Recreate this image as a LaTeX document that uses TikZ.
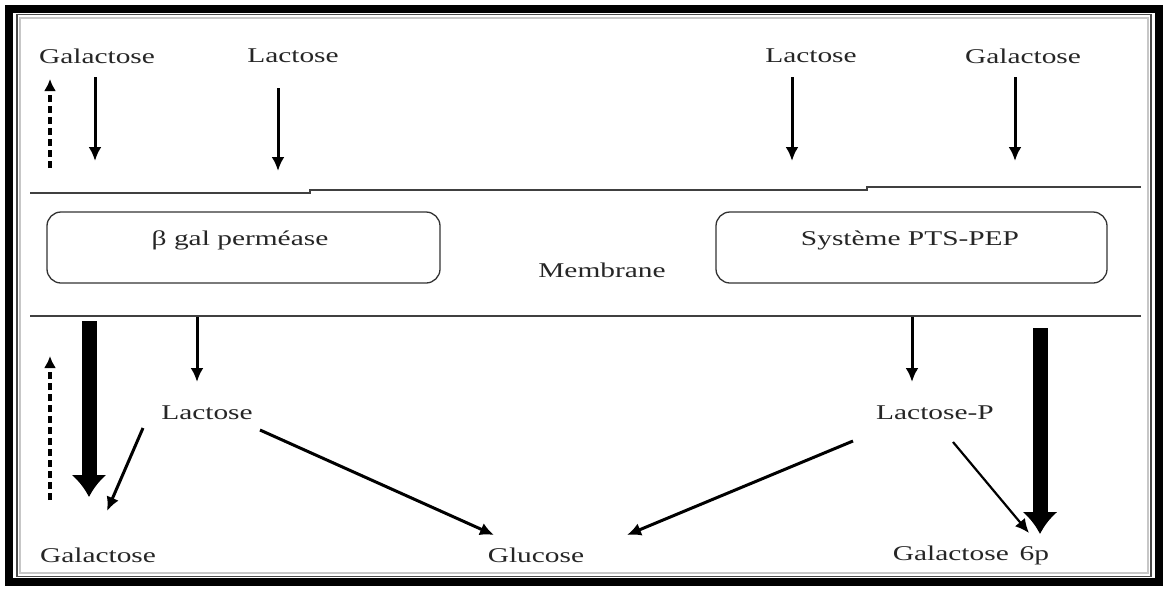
\documentclass[tikz,border=0pt]{standalone}
\usepackage{fontspec}
\setmainfont{Liberation Serif}[FakeStretch=1.4]
\usetikzlibrary{arrows.meta}
\tikzset{
  lbl/.style={inner sep=0pt, text=black!85, font=\fontsize{21}{24}\selectfont},
  thinarr/.style={line width=3pt, -{Latex[length=14pt,width=13pt]}},
  fatarr/.style={line width=15pt, -{Latex[length=22pt,width=36pt]}},
  dasharr/.style={line width=3.4pt, dash pattern=on 7pt off 4pt, -{Latex[length=12pt,width=12pt]}},
  membox/.style={draw=black!80, line width=1.3pt, rounded corners=14pt},
  memline/.style={draw=black!75, line width=1.8pt}
}
\begin{document}
\begin{tikzpicture}[x=1pt,y=-1pt]
\useasboundingbox (0,0) rectangle (1170,590);
\fill[white] (0,0) rectangle (1170,590);
% frame
\draw[line width=8pt, black] (8.5,8.5) rectangle (1159,582);
\draw[line width=1.6pt, black!70] (17,14.5) rectangle (1151,576.5);
\draw[line width=2.5pt, black!22] (20,18) rectangle (1148,573);

% membrane lines
\draw[memline] (30,193) -- (310,193) -- (310,190) -- (867,190) -- (867,187) -- (1141,187);
\draw[memline] (30,316) -- (1141,316);

% boxes
\node[membox, minimum width=393pt, minimum height=71pt] (perm) at (243.5,247.5) {};
\node[membox, minimum width=391pt, minimum height=71pt] (pts) at (911.5,247.5) {};
\node[lbl] (permt) at (240,240) {β gal perméase};
\node[lbl] (ptst) at (910,240) {Système PTS-PEP};
\node[lbl] (memb) at (602,270) {Membrane};

% top texts
\node[lbl] (galTL) at (97,56) {Galactose};
\node[lbl] (lacTL) at (293,56) {Lactose};
\node[lbl] (lacTR) at (811,56) {Lactose};
\node[lbl] (galTR) at (1023,56) {Galactose};

% inner texts
\node[lbl] (lacM) at (207,413) {Lactose};
\node[lbl] (lacP) at (935,413) {Lactose-P};
\node[lbl] (galB) at (98,555) {Galactose};
\node[lbl] (glu) at (536,555) {Glucose};
\node[lbl] (gal6) at (971,555) {Galactose\, 6p};

% coordinates
\coordinate (dA1) at (50,168); \coordinate (dA2) at (50,79);
\coordinate (a1s) at (95,77);  \coordinate (a1e) at (95,161);
\coordinate (a2s) at (278,88); \coordinate (a2e) at (278,171);
\coordinate (a3s) at (792,77); \coordinate (a3e) at (792,161);
\coordinate (a4s) at (1015,77); \coordinate (a4e) at (1015,161);

\coordinate (fLs) at (89,321); \coordinate (fLe) at (89,497);
\coordinate (dB1) at (50,500); \coordinate (dB2) at (50,356);
\coordinate (b1s) at (197,317); \coordinate (b1e) at (197,382);
\coordinate (b2s) at (143,428); \coordinate (b2e) at (107,511);
\coordinate (b3s) at (260,430); \coordinate (b3e) at (494,535);
\coordinate (b4s) at (853,441); \coordinate (b4e) at (627,535);
\coordinate (b5s) at (912,317); \coordinate (b5e) at (912,382);
\coordinate (b6s) at (953,442); \coordinate (b6e) at (1029,533);
\coordinate (fRs) at (1040,328); \coordinate (fRe) at (1040,534);

% top arrows
\draw[dasharr] (dA1) -- (dA2);
\draw[thinarr] (a1s) -- (a1e);
\draw[thinarr] (a2s) -- (a2e);
\draw[thinarr] (a3s) -- (a3e);
\draw[thinarr] (a4s) -- (a4e);

% bottom arrows
\draw[fatarr] (fLs) -- (fLe);
\draw[dasharr] (dB1) -- (dB2);
\draw[thinarr] (b1s) -- (b1e);
\draw[thinarr] (b2s) -- (b2e);
\draw[thinarr] (b3s) -- (b3e);
\draw[thinarr] (b4s) -- (b4e);
\draw[thinarr] (b5s) -- (b5e);
\draw[thinarr, line width=2.2pt] (b6s) -- (b6e);
\draw[fatarr] (fRs) -- (fRe);
\end{tikzpicture}
\end{document}
